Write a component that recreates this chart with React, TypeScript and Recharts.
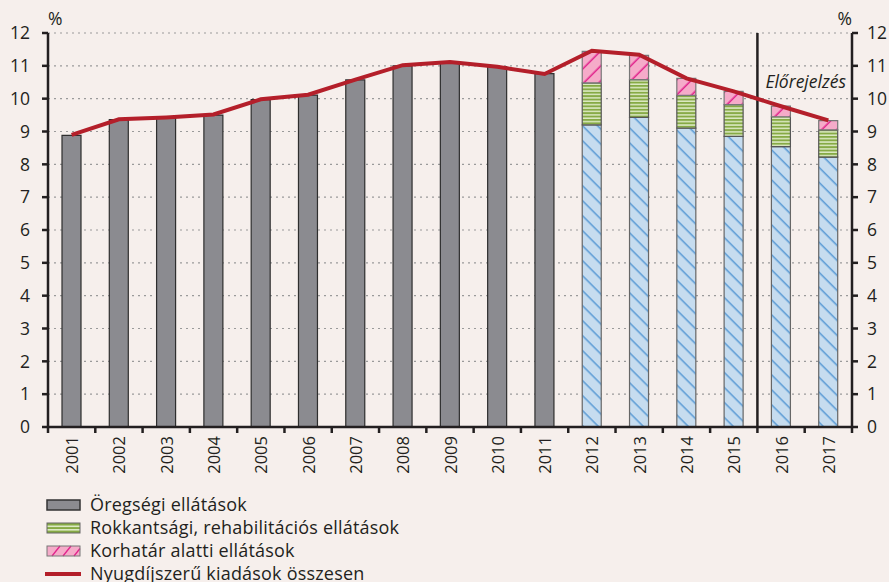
import { ComposedChart, Bar, Line, XAxis, YAxis, CartesianGrid, ReferenceLine, Cell } from 'recharts';

const years = ['2001', '2002', '2003', '2004', '2005', '2006', '2007', '2008', '2009', '2010', '2011', '2012', '2013', '2014', '2015', '2016', '2017'];
const oldAge = [8.88, 9.36, 9.41, 9.5, 9.97, 10.11, 10.57, 11.0, 11.12, 10.98, 10.76, 9.2, 9.43, 9.1, 8.85, 8.54, 8.22];
const disability = [null, null, null, null, null, null, null, null, null, null, null, 1.28, 1.15, 1.0, 0.97, 0.91, 0.83];
const earlyRet = [null, null, null, null, null, null, null, null, null, null, null, 0.96, 0.74, 0.52, 0.4, 0.32, 0.28];
const total = [8.9, 9.37, 9.43, 9.52, 9.98, 10.12, 10.58, 11.02, 11.12, 10.97, 10.75, 11.46, 11.34, 10.62, 10.22, 9.77, 9.34];
const yTicks = [0, 1, 2, 3, 4, 5, 6, 7, 8, 9, 10, 11, 12];
const newSystemFrom = 11;
const firstForecastYear = '2016';

const legendNames = [
  'Öregségi ellátások',
  'Rokkantsági, rehabilitációs ellátások',
  'Korhatár alatti ellátások',
  'Nyugdíjszerű kiadások összesen',
];

const data = years.map((year, i) => ({
  year,
  oldAge: oldAge[i],
  disability: disability[i],
  earlyRet: earlyRet[i],
  total: total[i],
}));

const FONT = '"Open Sans", sans-serif';
const INK = '#231f20';
const BG = '#f6efec';
const GRAY = '#8b8b90';
const RED = '#b41f2a';

// year label, rotated, plus the tick mark on the band boundary (ticks sit between bars)
const YearTick = (props: any) => {
  const { x, y, payload, index } = props;
  const half = payload && payload.offset ? payload.offset : 23.65;
  const axisY = y - 8;
  return (
    <g>
      {index === 0 && <line x1={x - half} y1={axisY} x2={x - half} y2={axisY + 6} stroke={INK} strokeWidth={2.5} />}
      <line x1={x + half} y1={axisY} x2={x + half} y2={axisY + 6} stroke={INK} strokeWidth={2.5} />
      <text
        x={x}
        y={y + 1}
        transform={`rotate(-90, ${x}, ${y + 1})`}
        textAnchor="end"
        dominantBaseline="central"
        fontSize={16.5}
        fontFamily={FONT}
        fill={INK}
      >
        {payload.value}
      </text>
    </g>
  );
};

const Swatch = ({ kind }: { kind: number }) => {
  if (kind === 3) {
    return (
      <svg width={38} height={12}>
        <line x1={1} y1={6} x2={37} y2={6} stroke={RED} strokeWidth={4} />
      </svg>
    );
  }
  return (
    <svg width={38} height={12}>
      {kind === 0 && <rect x={3} y={1} width={33} height={10} fill={GRAY} stroke="#333" strokeWidth={1.5} />}
      {kind === 1 && (
        <g>
          <rect x={3} y={1} width={33} height={10} fill="#86aa45" />
          <rect x={3} y={3.5} width={33} height={1.6} fill="#dce9c4" />
          <rect x={3} y={7} width={33} height={1.6} fill="#dce9c4" />
          <rect x={3} y={1} width={33} height={10} fill="none" stroke="#666" strokeWidth={1} />
        </g>
      )}
      {kind === 2 && (
        <g>
          <rect x={3} y={1} width={33} height={10} fill="#f5abc9" />
          <line x1={8} y1={11} x2={16} y2={1} stroke="#e2238c" strokeWidth={1.3} />
          <line x1={19} y1={11} x2={27} y2={1} stroke="#e2238c" strokeWidth={1.3} />
          <line x1={30} y1={11} x2={36} y2={3.5} stroke="#e2238c" strokeWidth={1.3} />
          <rect x={3} y={1} width={33} height={10} fill="none" stroke="#777" strokeWidth={1} />
        </g>
      )}
    </svg>
  );
};

const App = () => {
  return (
    <div style={{ position: 'absolute', left: 0, top: 0, width: 889, height: 582, background: BG, fontFamily: FONT }}>
      <ComposedChart
        width={889}
        height={582}
        data={data}
        margin={{ top: 33, right: 0, left: 0, bottom: 94 }}
        barSize={19}
      >
        <defs>
          <pattern id="blueHatch" patternUnits="userSpaceOnUse" width={10.6} height={10.6} patternTransform="rotate(-45)">
            <rect width={10.6} height={10.6} fill="#c6dcef" />
            <line x1={5} y1={0} x2={5} y2={10.6} stroke="#5b9bd5" strokeWidth={1.5} />
          </pattern>
          <pattern id="greenStripe" patternUnits="userSpaceOnUse" width={4} height={3.4}>
            <rect width={4} height={3.4} fill="#86aa45" />
            <rect y={1.9} width={4} height={1.5} fill="#dce9c4" />
          </pattern>
          <pattern id="pinkHatch" patternUnits="userSpaceOnUse" width={10.6} height={10.6} patternTransform="rotate(45)">
            <rect width={10.6} height={10.6} fill="#f5abc9" />
            <line x1={5} y1={0} x2={5} y2={10.6} stroke="#e2238c" strokeWidth={1.5} />
          </pattern>
        </defs>
        <CartesianGrid yAxisId="left" vertical={false} stroke="#9a9a9a" strokeDasharray="2 4" strokeWidth={1.2} />
        <XAxis
          dataKey="year"
          interval={0}
          height={61}
          tickSize={6}
          axisLine={{ stroke: INK, strokeWidth: 2.5 }}
          tickLine={false}
          tick={<YearTick />}
        />
        <YAxis
          yAxisId="left"
          width={48}
          domain={[0, 12]}
          ticks={yTicks}
          interval={0}
          tickSize={6}
          tickMargin={12}
          axisLine={{ stroke: INK, strokeWidth: 2.5 }}
          tickLine={{ stroke: INK, strokeWidth: 2.5 }}
          tick={{ fill: INK, fontSize: 17.5, fontFamily: FONT }}
          label={{
            content: (p: any) => (
              <text x={p.viewBox.x + p.viewBox.width} y={25} fontSize={17.5} fontFamily={FONT} fill={INK}>%</text>
            ),
          }}
        />
        <YAxis
          yAxisId="right"
          orientation="right"
          width={37}
          domain={[0, 12]}
          ticks={yTicks}
          interval={0}
          tickSize={6}
          tickMargin={9}
          axisLine={{ stroke: INK, strokeWidth: 2.5 }}
          tickLine={{ stroke: INK, strokeWidth: 2.5 }}
          tick={{ fill: INK, fontSize: 17.5, fontFamily: FONT }}
          label={{
            content: (p: any) => (
              <text x={p.viewBox.x} y={25} textAnchor="end" fontSize={17.5} fontFamily={FONT} fill={INK}>%</text>
            ),
          }}
        />
        <Bar yAxisId="left" dataKey="oldAge" stackId="a" fill={GRAY} stroke="#2e2e2e" strokeWidth={1.2} isAnimationActive={false}>
          {years.map((y, i) => (
            <Cell
              key={y}
              fill={i >= newSystemFrom ? 'url(#blueHatch)' : GRAY}
              stroke={i >= newSystemFrom ? '#666' : '#2e2e2e'}
            />
          ))}
        </Bar>
        <Bar yAxisId="left" dataKey="disability" stackId="a" fill="url(#greenStripe)" stroke="#555" strokeWidth={1.2} isAnimationActive={false} />
        <Bar yAxisId="left" dataKey="earlyRet" stackId="a" fill="url(#pinkHatch)" stroke="#777" strokeWidth={1.2} isAnimationActive={false} />
        <ReferenceLine
          yAxisId="left"
          x={firstForecastYear}
          position="start"
          stroke={INK}
          strokeWidth={2.5}
          label={{
            content: (p: any) => (
              <text x={p.viewBox.x + 8} y={p.viewBox.y + 55} fontSize={17.5} fontStyle="italic" fontFamily={FONT} fill={INK}>
                Előrejelzés
              </text>
            ),
          }}
        />
        <Line
          yAxisId="right"
          dataKey="total"
          stroke={RED}
          strokeWidth={4}
          dot={false}
          activeDot={false}
          isAnimationActive={false}
        />
      </ComposedChart>
      <div style={{ position: 'absolute', left: 44, top: 493, color: INK, fontSize: 18, letterSpacing: 0.2 }}>
        {legendNames.map((name, i) => (
          <div key={name} style={{ display: 'flex', alignItems: 'center', height: 23, lineHeight: '23px', whiteSpace: 'nowrap' }}>
            <Swatch kind={i} />
            <span style={{ marginLeft: 8 }}>{name}</span>
          </div>
        ))}
      </div>
    </div>
  );
};

export default App;
